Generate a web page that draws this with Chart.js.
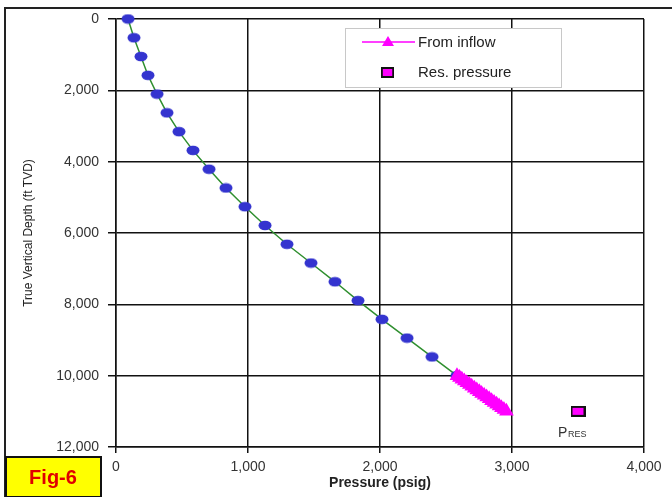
<!DOCTYPE html>
<html>
<head>
<meta charset="utf-8">
<script src="https://cdn.jsdelivr.net/npm/chart.js@4/dist/chart.umd.min.js"></script>
<style>
  body { margin: 0; background: #fff; }
  canvas { display: block; }
</style>
</head>
<body>
<canvas id="gradientChart" width="672" height="497"></canvas>
<script>
// gradient traverse (blue dots on the green line)
var traverseDepth = [0, 526, 1053, 1579, 2105, 2632, 3158, 3684, 4211, 4737, 5263, 5789, 6316, 6842, 7368, 7895, 8421, 8947, 9474, 10000];
var traversePressure = [91, 136, 189, 242, 311, 386, 477, 583, 705, 833, 977, 1129, 1295, 1477, 1659, 1833, 2015, 2205, 2394, 2583];

// from inflow (magenta triangles)
var inflowDepth = [10000, 10050, 10100, 10150, 10200, 10250, 10300, 10350, 10400, 10450, 10500, 10550, 10600, 10650, 10700, 10750, 10800, 10850, 10900, 10950, 11000];
var inflowPressure = [2583, 2602, 2620, 2639, 2658, 2677, 2695, 2714, 2733, 2752, 2770, 2789, 2808, 2827, 2845, 2864, 2883, 2902, 2920, 2939, 2958];

// reservoir pressure
var resDepth = [11000];
var resPressure = [3500];

var xTicks = [0, 1000, 2000, 3000, 4000];
var yTicks = [0, 2000, 4000, 6000, 8000, 10000, 12000];

function toPoints(xs, ys) {
    var pts = [];
    for (var i = 0; i < xs.length; i++) pts.push({x: xs[i], y: ys[i]});
    return pts;
}

// blurry oval dots like the scanned figure
var dotImg = document.createElement("canvas");
dotImg.width = 14; dotImg.height = 11;
var dctx = dotImg.getContext("2d");
dctx.fillStyle = "#3434cf";
dctx.beginPath();
dctx.ellipse(7, 5.5, 6.5, 4.8, 0, 0, Math.PI * 2);
dctx.fill();

var squareImg = document.createElement("canvas");
squareImg.width = 15; squareImg.height = 11;
var sctx = squareImg.getContext("2d");
sctx.fillStyle = "#ff00ff";
sctx.fillRect(1, 1, 13, 9);
sctx.strokeStyle = "#111";
sctx.lineWidth = 2;
sctx.strokeRect(1, 1, 13, 9);

var extras = {
    id: "extras",
    afterDraw: function(chart) {
        var ctx = chart.ctx;
        var xs = chart.scales.x, ys = chart.scales.y;
        ctx.save();

        // outer frame of the scanned figure
        ctx.strokeStyle = "#222";
        ctx.lineWidth = 2;
        ctx.beginPath();
        ctx.moveTo(5, 497);
        ctx.lineTo(5, 8);
        ctx.lineTo(672, 8);
        ctx.stroke();

        // legend box
        ctx.fillStyle = "#fff";
        ctx.fillRect(345, 28, 216, 59);
        ctx.strokeStyle = "#c8c8c8";
        ctx.lineWidth = 1;
        ctx.strokeRect(345.5, 28.5, 216, 59);
        ctx.strokeStyle = "#ff00ff";
        ctx.lineWidth = 1.5;
        ctx.beginPath();
        ctx.moveTo(362, 42);
        ctx.lineTo(415, 42);
        ctx.stroke();
        ctx.fillStyle = "#ff00ff";
        ctx.beginPath();
        ctx.moveTo(388, 36);
        ctx.lineTo(394, 46);
        ctx.lineTo(382, 46);
        ctx.closePath();
        ctx.fill();
        ctx.drawImage(squareImg, 381, 67, 13, 11);
        ctx.fillStyle = "#222";
        ctx.font = "15px 'Liberation Sans', Arial, sans-serif";
        ctx.textAlign = "left";
        ctx.textBaseline = "middle";
        ctx.fillText("From inflow", 418, 43);
        ctx.fillText("Res. pressure", 418, 73);

        // P_RES label under the square
        var px = xs.getPixelForValue(resPressure[0]) - 20;
        var py = ys.getPixelForValue(resDepth[0]) + 26;
        ctx.fillStyle = "#333";
        ctx.textBaseline = "alphabetic";
        ctx.font = "14px 'Liberation Sans', Arial, sans-serif";
        ctx.fillText("P", px, py);
        ctx.font = "9px 'Liberation Sans', Arial, sans-serif";
        ctx.fillText("RES", px + 10, py);

        // Fig-6 tag
        ctx.fillStyle = "#ffff00";
        ctx.fillRect(5, 456, 97, 41);
        ctx.strokeStyle = "#111";
        ctx.lineWidth = 2;
        ctx.strokeRect(6, 457, 95, 40);
        ctx.fillStyle = "#e00000";
        ctx.font = "bold 20px 'Liberation Sans Narrow', 'Liberation Sans', Arial, sans-serif";
        ctx.textAlign = "center";
        ctx.textBaseline = "middle";
        ctx.fillText("Fig-6", 53, 478);
        ctx.restore();
    }
};

var canvasElement = document.getElementById("gradientChart");
var config = {
    type: "scatter",
    data: {
        datasets: [
            {
                label: "Traverse",
                data: toPoints(traversePressure, traverseDepth),
                showLine: true,
                borderColor: "#2f8f2f",
                borderWidth: 1.5,
                pointStyle: dotImg,
                clip: false,
                order: 2
            },
            {
                label: "From inflow",
                data: toPoints(inflowPressure, inflowDepth),
                showLine: true,
                borderColor: "#ff00ff",
                borderWidth: 1.5,
                backgroundColor: "#ff00ff",
                pointBorderColor: "#ff00ff",
                pointStyle: "triangle",
                pointRadius: 7,
                order: 1
            },
            {
                label: "Res. pressure",
                data: toPoints(resPressure, resDepth),
                pointStyle: squareImg,
                order: 0
            }
        ]
    },
    options: {
        responsive: false,
        animation: false,
        layout: {padding: {top: 19, right: 28, left: 0, bottom: 0}},
        plugins: {legend: {display: false}, tooltip: {enabled: false}},
        scales: {
            x: {
                type: "linear",
                min: 0, max: 4000,
                afterFit: function(scale) { scale.height = 50; },
                afterBuildTicks: function(scale) { scale.ticks = xTicks.map(function(v) { return {value: v}; }); },
                grid: {color: "#111", lineWidth: 1.5, tickLength: 6, tickColor: "#111"},
                border: {color: "#111", width: 1.5},
                ticks: {color: "#333", padding: 6, maxRotation: 0, font: {family: "'Liberation Sans', Arial, sans-serif", size: 14}},
                title: {display: true, text: "Pressure (psig)", color: "#222", padding: {top: 0, bottom: 5},
                        font: {family: "'Liberation Sans', Arial, sans-serif", size: 14, weight: "bold"}}
            },
            y: {
                type: "linear",
                reverse: true,
                min: 0, max: 12000,
                afterFit: function(scale) { scale.width = 116; },
                afterBuildTicks: function(scale) { scale.ticks = yTicks.map(function(v) { return {value: v}; }); },
                grid: {color: "#111", lineWidth: 1.5, tickLength: 8, tickColor: "#111"},
                border: {color: "#111", width: 1.5},
                ticks: {color: "#333", padding: 9, font: {family: "'Liberation Sans', Arial, sans-serif", size: 14}},
                title: {display: true, text: "True Vertical Depth (ft TVD)", color: "#222", padding: {top: 21, bottom: 0},
                        font: {family: "'Liberation Sans Narrow', 'Liberation Sans', Arial, sans-serif", size: 12}}
            }
        }
    },
    plugins: [extras]
};

var gradientChart = new Chart(canvasElement, config);
</script>
</body>
</html>
